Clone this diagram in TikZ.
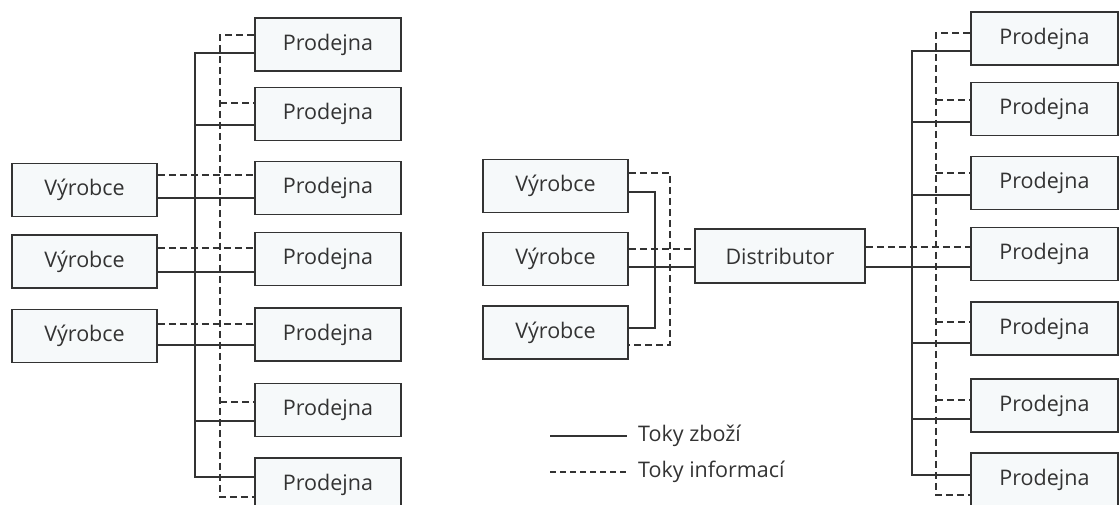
\documentclass[tikz,border=0pt]{standalone}
\usepackage{fontspec}
\setmainfont{Open Sans}
\definecolor{boxfill}{RGB}{246,249,250}
\definecolor{ink}{RGB}{51,51,51}
\begin{document}
\begin{tikzpicture}[x=1pt,y=-1pt,
  box/.style={draw=ink, line width=1.8pt, fill=boxfill, inner sep=0pt,
    minimum width=146pt, minimum height=53pt, font=\fontsize{21.5}{24}\selectfont, text=ink},
  goods/.style={draw=ink, line width=1.2pt},
  info/.style={draw=ink, line width=1.2pt, dash pattern=on 7pt off 4pt},
  legtext/.style={anchor=west, inner sep=0pt, font=\fontsize{21.5}{24}\selectfont, text=ink}]
\useasboundingbox (0,0) rectangle (1120,505);
\clip (0,0) rectangle (1120,505);

% left panel: producers and shops
\node[box] (lp1) at (328,44.5) {Prodejna};
\node[box] (lp2) at (328,114) {Prodejna};
\node[box] (lp3) at (328,188) {Prodejna};
\node[box] (lp4) at (328,259) {Prodejna};
\node[box] (lp5) at (328,334.5) {Prodejna};
\node[box] (lp6) at (328,410) {Prodejna};
\node[box] (lp7) at (328,484.5) {Prodejna};
\node[box,minimum width=145pt] (lv1) at (84.5,190) {Výrobce};
\node[box,minimum width=145pt] (lv2) at (84.5,261.5) {Výrobce};
\node[box,minimum width=145pt] (lv3) at (84.5,336) {Výrobce};
\coordinate (gL) at (195,0);
\coordinate (iL) at (220,0);

% left panel: goods flows
\draw[goods] (lp1.west |- 0,53) -- (gL |- 0,53) -- (gL |- 0,477) -- (lp7.west |- 0,477);
\draw[goods] (gL |- 0,125) -- (lp2.west |- 0,125);
\draw[goods] (gL |- 0,421) -- (lp6.west |- 0,421);
\draw[goods] (lv1.east |- 0,198) -- (lp3.west |- 0,198);
\draw[goods] (lv2.east |- 0,272) -- (lp4.west |- 0,272);
\draw[goods] (lv3.east |- 0,345) -- (lp5.west |- 0,345);
% left panel: information flows
\draw[info] (lp1.west |- 0,35) -- (iL |- 0,35) -- (iL |- 0,497) -- (lp7.west |- 0,497);
\draw[info] (iL |- 0,103) -- (lp2.west |- 0,103);
\draw[info] (iL |- 0,402) -- (lp6.west |- 0,402);
\draw[info] (lv1.east |- 0,175) -- (lp3.west |- 0,175);
\draw[info] (lv2.east |- 0,248) -- (lp4.west |- 0,248);
\draw[info] (lv3.east |- 0,324) -- (lp5.west |- 0,324);

% middle: producers and distributor
\node[box,minimum width=145pt] (mv1) at (555.5,186) {Výrobce};
\node[box,minimum width=145pt] (mv2) at (555.5,259) {Výrobce};
\node[box,minimum width=145pt] (mv3) at (555.5,332.5) {Výrobce};
\node[box,minimum width=170pt,minimum height=54pt] (dist) at (780,256) {Distributor};
\coordinate (gM) at (655,0);
\coordinate (iM) at (670,0);
\draw[goods] (mv1.east |- 0,192) -- (gM |- 0,192) -- (gM |- 0,328) -- (mv3.east |- 0,328);
\draw[info] (mv1.east |- 0,173) -- (iM |- 0,173) -- (iM |- 0,345) -- (mv3.east |- 0,345);
\draw[goods] (mv2.east |- 0,267) -- (dist.west |- 0,267);
\draw[info] (mv2.east |- 0,249) -- (dist.west |- 0,249);

% right panel: shops supplied by the distributor
\node[box,minimum width=147pt] (rp1) at (1044.5,38.5) {Prodejna};
\node[box,minimum width=147pt] (rp2) at (1044.5,109) {Prodejna};
\node[box,minimum width=147pt] (rp3) at (1044.5,183) {Prodejna};
\node[box,minimum width=147pt] (rp4) at (1044.5,254) {Prodejna};
\node[box,minimum width=147pt] (rp5) at (1044.5,328.5) {Prodejna};
\node[box,minimum width=147pt] (rp6) at (1044.5,405.5) {Prodejna};
\node[box,minimum width=147pt] (rp7) at (1044.5,479.5) {Prodejna};
\coordinate (gR) at (912,0);
\coordinate (iR) at (936,0);
\draw[goods] (rp1.west |- 0,51) -- (gR |- 0,51) -- (gR |- 0,475) -- (rp7.west |- 0,475);
\draw[goods] (gR |- 0,122) -- (rp2.west |- 0,122);
\draw[goods] (gR |- 0,195) -- (rp3.west |- 0,195);
\draw[goods] (gR |- 0,343) -- (rp5.west |- 0,343);
\draw[goods] (gR |- 0,419) -- (rp6.west |- 0,419);
\draw[goods] (dist.east |- 0,267) -- (rp4.west |- 0,267);
\draw[info] (rp1.west |- 0,33) -- (iR |- 0,33) -- (iR |- 0,495) -- (rp7.west |- 0,495);
\draw[info] (iR |- 0,100) -- (rp2.west |- 0,100);
\draw[info] (iR |- 0,173) -- (rp3.west |- 0,173);
\draw[info] (iR |- 0,322) -- (rp5.west |- 0,322);
\draw[info] (iR |- 0,400) -- (rp6.west |- 0,400);
\draw[info] (dist.east |- 0,247) -- (rp4.west |- 0,247);

% legend
\node[legtext] (lg1) at (638,436) {Toky zboží};
\node[legtext] (lg2) at (638,472) {Toky informací};
\coordinate (lg1s) at (550,436);
\coordinate (lg2s) at (550,472);
\draw[goods] (lg1s) -- ([xshift=-11pt]lg1.west);
\draw[info, dash pattern=on 6pt off 4pt] (lg2s) -- ([xshift=-11pt]lg2.west);
\end{tikzpicture}
\end{document}
